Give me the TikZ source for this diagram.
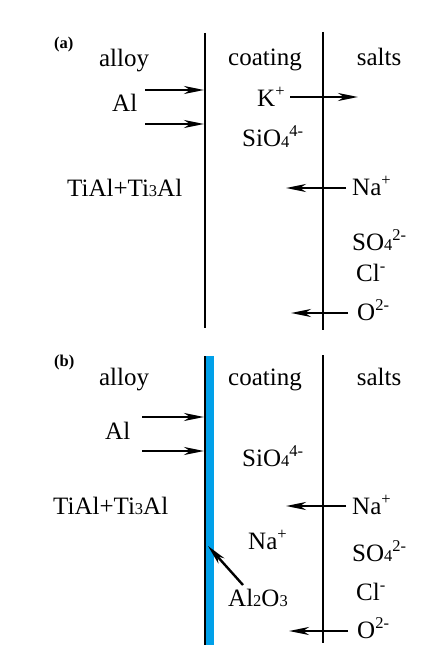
\documentclass[tikz,border=0pt]{standalone}
\usepackage{fontspec}
\setmainfont{Liberation Serif}
\usetikzlibrary{arrows.meta}
\newcommand\dnx[1]{\raisebox{-0.5pt}{\fontsize{16.5}{16.5}\selectfont #1}}
\newcommand\upx[1]{\raisebox{10pt}{\fontsize{16.5}{16.5}\selectfont #1}}
\definecolor{oxblue}{RGB}{0,160,233}
\begin{document}
\begin{tikzpicture}[x=1pt,y=-1pt,
  lbl/.style={inner sep=0pt,font=\fontsize{25}{29}\selectfont},
  tag/.style={inner sep=0pt,font=\fontsize{16.5}{18}\selectfont\bfseries},
  wall/.style={line width=2.7pt},
  flow/.style={line width=2.4pt,-{Stealth[length=20pt,width=8pt,inset=6pt]}}]
\useasboundingbox (0,0) rectangle (442,663);
% ---------- panel (a) ----------
\node[tag,anchor=base west] (ta) at (54,49) {(a)};
\node[lbl,anchor=base] (alloyA) at (124,67) {alloy};
\node[lbl,anchor=base] (coatA) at (265,66) {coating};
\node[lbl,anchor=base] (saltA) at (379,66) {salts};
\node[lbl,anchor=base west] (alA) at (112,112) {Al};
\node[lbl,anchor=base west] (kA) at (257,107) {K\upx{+}};
\node[lbl,anchor=base west] (siA) at (242,147) {SiO\dnx{4}\upx{4-}};
\node[lbl,anchor=base west] (tiA) at (67,196) {TiAl+Ti\dnx{3}Al};
\node[lbl,anchor=base west] (naA) at (352,195) {Na\upx{+}};
\node[lbl,anchor=base west] (soA) at (352,250) {SO\dnx{4}\upx{2-}};
\node[lbl,anchor=base west] (clA) at (356,281) {Cl\upx{-}};
\node[lbl,anchor=base west] (oA) at (357,320) {O\upx{2-}};
\coordinate (w1aT) at (205,33);
\coordinate (w1aB) at (205,328);
\coordinate (w2aT) at (323,32);
\coordinate (w2aB) at (323,330);
\draw[wall] (w1aT) -- (w1aB);
\draw[wall] (w2aT) -- (w2aB);
\coordinate (a1s) at (145,90);  \coordinate (a1e) at (204,90);
\coordinate (a2s) at (145,124); \coordinate (a2e) at (204,124);
\coordinate (ks) at (290,97);   \coordinate (ke) at (358,97);
\coordinate (nas) at (346,188); \coordinate (nae) at (286,188);
\coordinate (os) at (348,313);  \coordinate (oe) at (291,313);
\draw[flow] (a1s) -- (a1e);
\draw[flow] (a2s) -- (a2e);
\draw[flow] (ks) -- (ke);
\draw[flow] (nas) -- (nae);
\draw[flow] (os) -- (oe);
% ---------- panel (b) ----------
\node[tag,anchor=base west] (tb) at (54,366) {(b)};
\node[lbl,anchor=base] (alloyB) at (124,385) {alloy};
\node[lbl,anchor=base] (coatB) at (265,385) {coating};
\node[lbl,anchor=base] (saltB) at (379,385) {salts};
\node[lbl,anchor=base west] (alB) at (105,439) {Al};
\node[lbl,anchor=base west] (siB) at (242,466) {SiO\dnx{4}\upx{4-}};
\node[lbl,anchor=base west] (tiB) at (53,514) {TiAl+Ti\dnx{3}Al};
\node[lbl,anchor=base west] (naB) at (352,514) {Na\upx{+}};
\node[lbl,anchor=base west] (naM) at (248,549) {Na\upx{+}};
\node[lbl,anchor=base west] (soB) at (352,561) {SO\dnx{4}\upx{2-}};
\node[lbl,anchor=base west] (clB) at (356,600) {Cl\upx{-}};
\node[lbl,anchor=base west] (oB) at (357,638) {O\upx{2-}};
\node[lbl,anchor=base west] (aoB) at (228,606) {Al\dnx{2}O\dnx{3}};
\fill[oxblue] (205,356) rectangle (213.5,645);
\coordinate (w1bT) at (205,356);
\coordinate (w1bB) at (205,645);
\coordinate (w2bT) at (323,355);
\coordinate (w2bB) at (323,643);
\draw[line width=2pt] (w1bT) -- (w1bB);
\draw[wall] (w2bT) -- (w2bB);
\coordinate (b1s) at (142,417); \coordinate (b1e) at (204,417);
\coordinate (b2s) at (142,451); \coordinate (b2e) at (204,451);
\coordinate (nbs) at (346,506); \coordinate (nbe) at (286,506);
\coordinate (obs) at (348,631); \coordinate (obe) at (289,631);
\coordinate (aos) at (243,585); \coordinate (aoe) at (208,546);
\draw[flow] (b1s) -- (b1e);
\draw[flow] (b2s) -- (b2e);
\draw[flow] (nbs) -- (nbe);
\draw[flow] (obs) -- (obe);
\draw[flow] (aos) -- (aoe);
\end{tikzpicture}
\end{document}
